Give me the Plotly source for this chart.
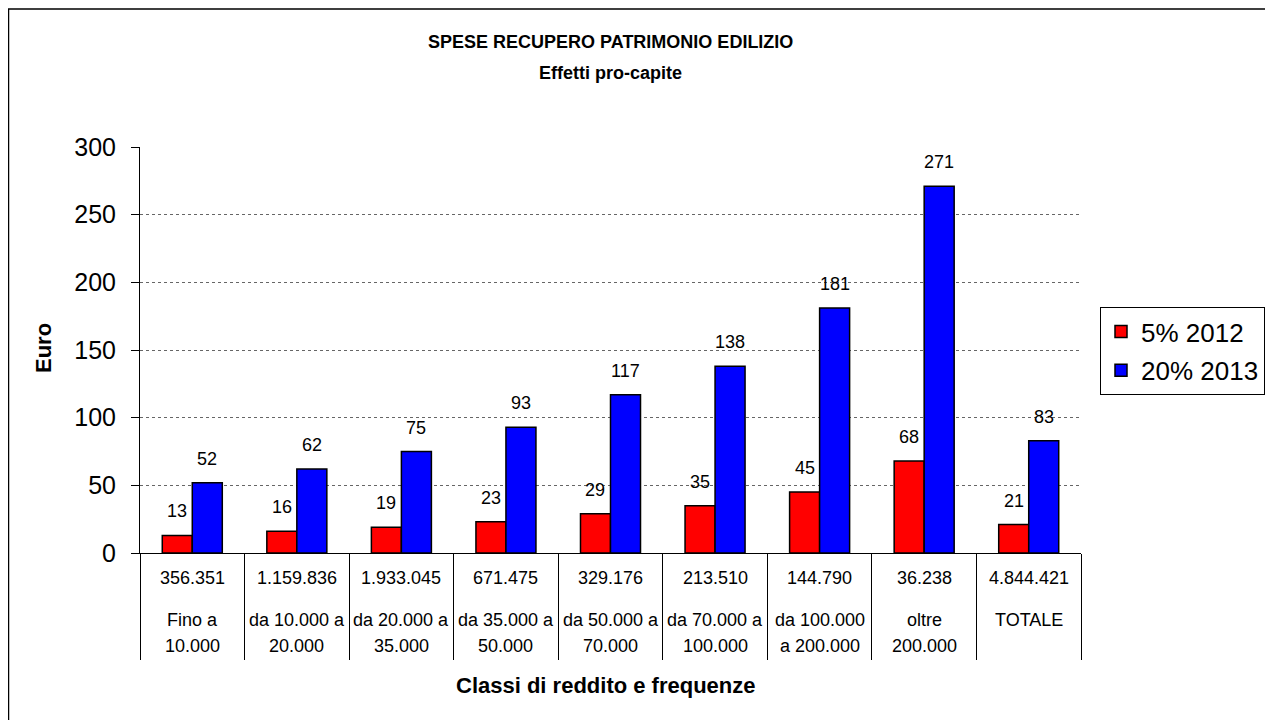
import plotly.graph_objects as go

# ---- data ----
frequenze = ["356.351", "1.159.836", "1.933.045", "671.475", "329.176",
             "213.510", "144.790", "36.238", "4.844.421"]
classi_l1 = ["Fino a", "da 10.000 a", "da 20.000 a", "da 35.000 a", "da 50.000 a",
             "da 70.000 a", "da 100.000", "oltre", "TOTALE"]
classi_l2 = ["10.000", "20.000", "35.000", "50.000", "70.000",
             "100.000", "a 200.000", "200.000", ""]
categorie = [f"{a} {b}".strip() for a, b in zip(classi_l1, classi_l2)]
val_2012 = [13, 16, 19, 23, 29, 35, 45, 68, 21]
val_2013 = [52, 62, 75, 93, 117, 138, 181, 271, 83]
serie = [("5% 2012", val_2012, "#FF0000"), ("20% 2013", val_2013, "#0000FF")]
y_ticks = [0, 50, 100, 150, 200, 250, 300]

FONT = "Arial, Liberation Sans, sans-serif"
OFF = 8  # page body margin
W, H = 1273 - OFF, 720 - OFF
ML, MT = 140 - OFF, 147 - OFF
PW, PH = 941, 406
MR, MB = W - ML - PW, H - MT - PH
BARGAP = 0.426

def px_x(p):  # reference pixel -> paper
    return (p - OFF - ML) / PW

def px_y(p):
    return (MT + PH - (p - OFF)) / PH

fig = go.Figure()
for i, (name, vals, col) in enumerate(serie):
    fig.add_trace(go.Bar(
        x=categorie, y=vals, name=name, legendgroup=name,
        marker=dict(color=col, line=dict(color="black", width=1.5)),
    ))

annotations = []
# data labels
cat_w = PW / len(categorie)
half = (1 - BARGAP) * cat_w / 4
for i, (name, vals, col) in enumerate(serie):
    shift = -half if i == 0 else half
    for c, v in zip(categorie, vals):
        annotations.append(dict(x=c, y=v, xref="x", yref="y", text=str(v),
                                showarrow=False, yanchor="middle", yshift=24, xshift=shift,
                                font=dict(family=FONT, size=18, color="black")))

# category table labels
for c, f, l1, l2 in zip(categorie, frequenze, classi_l1, classi_l2):
    annotations.append(dict(x=c, y=px_y(578), xref="x", yref="paper", text=f,
                            showarrow=False, yanchor="middle",
                            font=dict(family=FONT, size=18, color="black")))
    annotations.append(dict(x=c, y=px_y(620), xref="x", yref="paper", text=l1,
                            showarrow=False, yanchor="middle",
                            font=dict(family=FONT, size=18, color="black")))
    if l2:
        annotations.append(dict(x=c, y=px_y(646), xref="x", yref="paper", text=l2,
                                showarrow=False, yanchor="middle",
                                font=dict(family=FONT, size=18, color="black")))

# titles
annotations += [
    dict(x=0.5, y=px_y(42), xref="paper", yref="paper", showarrow=False,
         text="<b>SPESE RECUPERO PATRIMONIO EDILIZIO</b>", yanchor="middle",
         font=dict(family=FONT, size=18, color="black")),
    dict(x=0.5, y=px_y(73), xref="paper", yref="paper", showarrow=False,
         text="<b>Effetti pro-capite</b>", yanchor="middle",
         font=dict(family=FONT, size=18, color="black")),
    dict(x=px_x(606), y=px_y(685), xref="paper", yref="paper", showarrow=False,
         text="<b>Classi di reddito e frequenze</b>", yanchor="middle",
         font=dict(family=FONT, size=22, color="black")),
    dict(x=px_x(43), y=px_y(348), xref="paper", yref="paper", showarrow=False,
         text="<b>Euro</b>", textangle=-90, xanchor="center", yanchor="middle",
         font=dict(family=FONT, size=22, color="black")),
]

shapes = [dict(type="rect", xref="paper", yref="paper",
               x0=px_x(8.5), x1=px_x(1271), y0=px_y(740), y1=px_y(9),
               line=dict(color="black", width=1.5), layer="below")]

fig.update_layout(
    width=W, height=H,
    margin=dict(l=ML, r=MR, t=MT, b=MB, autoexpand=False),
    paper_bgcolor="white", plot_bgcolor="white",
    barmode="group", bargap=BARGAP, bargroupgap=0,
    font=dict(family=FONT, color="black"),
    showlegend=True,
    legend=dict(x=px_x(1100), y=px_y(307), xanchor="left", yanchor="top",
                bordercolor="black", borderwidth=1, bgcolor="white",
                font=dict(family=FONT, size=26, color="black"),
                tracegroupgap=2),
    xaxis=dict(type="category", range=[-0.5, len(categorie) - 0.5],
               showticklabels=False, ticks="outside", tickson="boundaries",
               ticklen=106, tickcolor="black", tickwidth=1,
               showline=True, linecolor="black", linewidth=1,
               showgrid=False, zeroline=False, fixedrange=True),
    yaxis=dict(range=[0, 300], tickvals=y_ticks, ticks="outside", ticklen=8,
               tickcolor="black", tickwidth=1, showline=True, linecolor="black",
               linewidth=1, showgrid=True, gridcolor="#666666", gridwidth=1,
               griddash="dot", zeroline=False, ticklabelstandoff=10,
               tickfont=dict(family=FONT, size=25, color="black")),
    annotations=annotations, shapes=shapes,
)

fig.write_html("out.html")
